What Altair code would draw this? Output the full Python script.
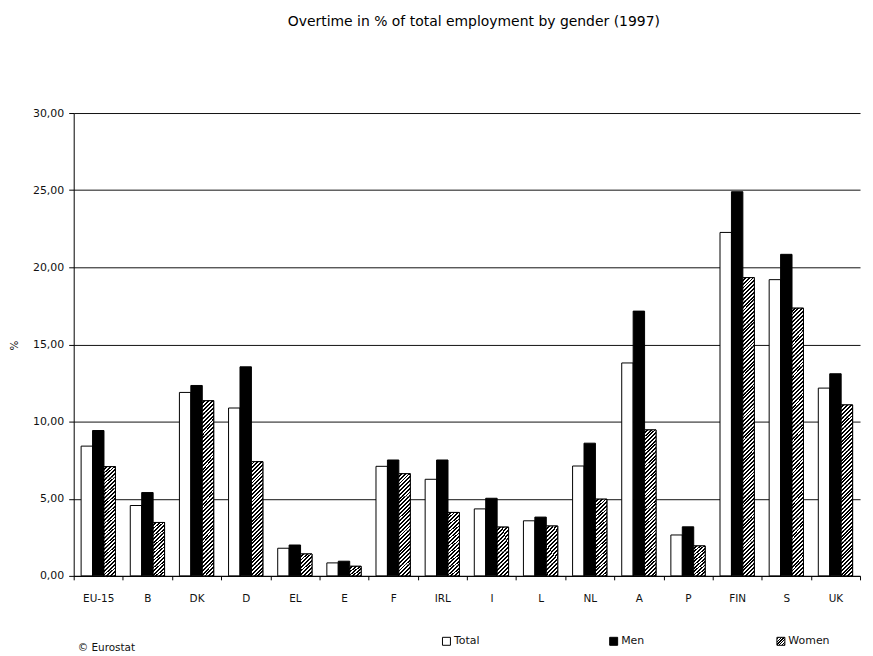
import altair as alt
import pandas as pd

# ---- data ----
countries = ["EU-15", "B", "DK", "D", "EL", "E", "F", "IRL", "I", "L",
             "NL", "A", "P", "FIN", "S", "UK"]
total = [8.41, 4.56, 11.89, 10.88, 1.79, 0.84, 7.10, 6.26, 4.34, 3.57,
         7.12, 13.80, 2.65, 22.26, 19.20, 12.17]
men = [9.42, 5.40, 12.34, 13.55, 2.00, 0.95, 7.51, 7.51, 5.03, 3.81,
       8.60, 17.16, 3.18, 24.90, 20.84, 13.10]
women = [7.08, 3.46, 11.35, 7.40, 1.42, 0.62, 6.62, 4.11, 3.16, 3.23,
         4.97, 9.46, 1.94, 19.33, 17.35, 11.08]
series = ["Total", "Men", "Women"]
y_ticks = [0, 5, 10, 15, 20, 25, 30]
title_text = "Overtime in % of  total employment by gender (1997)"
source_text = "© Eurostat"

FONT = "DejaVu Sans"

rows = []
for c, t, m, w in zip(countries, total, men, women):
    rows += [{"cat": c, "series": "Total", "value": t},
             {"cat": c, "series": "Men", "value": m},
             {"cat": c, "series": "Women", "value": w}]
df = pd.DataFrame(rows)
wdf = df[df.series == "Women"].copy()

# hatch tiles: split each women bar into near-square pieces so that a
# diagonal-stripe gradient keeps a constant angle
TILE = 0.74
tiles = []
for c, w in zip(countries, women):
    k = max(1, round(w / TILE))
    h = w / k
    for i in range(k):
        tiles.append({"cat": c, "series": "Women", "y0": i * h, "y1": (i + 1) * h})
tdf = pd.DataFrame(tiles)

N = 6
stops = []
for j in range(N):
    a = j / N
    b = a + 0.5 / N
    e = (j + 1) / N
    stops += [{"offset": a, "color": "white"}, {"offset": b, "color": "white"},
              {"offset": b, "color": "black"}, {"offset": e, "color": "black"}]
hatch = {"gradient": "linear", "x1": 0, "y1": 0, "x2": 1, "y2": 1, "stops": stops}

stop_expr = ",".join("{offset:%g,color:'%s'}" % (s["offset"], s["color"]) for s in stops)
hatch_expr = "{gradient:'linear',x1:0,y1:0,x2:1,y2:1,stops:[" + stop_expr + "]}"

x_enc = alt.X("cat:N", sort=countries,
              scale=alt.Scale(paddingInner=0, paddingOuter=0),
              axis=alt.Axis(title=None, labelAngle=0, tickBand="extent",
                            tickSize=4, labelPadding=14, labelFontSize=10.5,
                            labelFont=FONT, labelColor="#111",
                            domainColor="black", tickColor="black"))
xo_enc = alt.XOffset("series:N", sort=series,
                     scale=alt.Scale(domain=series, paddingOuter=0.65, paddingInner=0))
y_axis = alt.Axis(title="%", values=y_ticks, tickSize=5, labelPadding=5,
                  labelFontSize=11, labelFont=FONT, labelColor="#111",
                  labelExpr="replace(format(datum.value, '.2f'), '.', ',')",
                  grid=True, gridColor="#111", gridWidth=1,
                  domainColor="black", tickColor="black",
                  titleFont=FONT, titleFontSize=10.5, titleFontWeight="normal",
                  titleX=-59, titleY=233, titleBaseline="middle", titleColor="#111")
y_scale = alt.Scale(domain=[0, 30], nice=False)

bars = alt.Chart(df).mark_bar(stroke="black", strokeWidth=1).encode(
    x=x_enc,
    xOffset=xo_enc,
    y=alt.Y("value:Q", scale=y_scale, axis=y_axis),
    fill=alt.Fill("series:N", sort=series,
                  scale=alt.Scale(domain=series,
                                  range=["white", "black", alt.ExprRef(expr=hatch_expr)]),
                  legend=alt.Legend(title=None, orient="none", legendX=369, legendY=525,
                                    direction="horizontal", columns=3, gridAlign="all",
                                    columnPadding=112, padding=0,
                                    symbolType="square", symbolSize=64,
                                    symbolStrokeColor="black", symbolStrokeWidth=1,
                                    symbolOpacity=1, labelFont=FONT, labelFontSize=11,
                                    labelColor="#111", labelOffset=2)),
)

tile_layer = alt.Chart(tdf).mark_bar(fill=hatch, strokeWidth=0).encode(
    x=alt.X("cat:N", sort=countries),
    xOffset=alt.XOffset("series:N", sort=series),
    y=alt.Y("y0:Q", scale=y_scale, title="%"),
    y2="y1:Q",
)

outline = alt.Chart(wdf).mark_bar(fillOpacity=0, stroke="black", strokeWidth=1).encode(
    x=alt.X("cat:N", sort=countries),
    xOffset=alt.XOffset("series:N", sort=series),
    y=alt.Y("value:Q", scale=y_scale, title="%"),
)

src = alt.Chart(pd.DataFrame({"t": [source_text]})).mark_text(
    align="left", baseline="middle", font=FONT, fontSize=10.5, color="#111"
).encode(text="t:N", x=alt.value(4), y=alt.value(537))

chart = alt.layer(bars, tile_layer, outline, src).properties(
    width=790, height=465,
    title=alt.TitleParams(title_text, anchor="middle", offset=78, dx=7,
                          fontSize=14, font=FONT, fontWeight="normal", color="black"),
    autosize="none",
    padding={"left": 66, "top": 104, "right": 5, "bottom": 79},
).configure_view(stroke=None)

chart.save("out.html", embed_options={"renderer": "svg", "actions": False})
